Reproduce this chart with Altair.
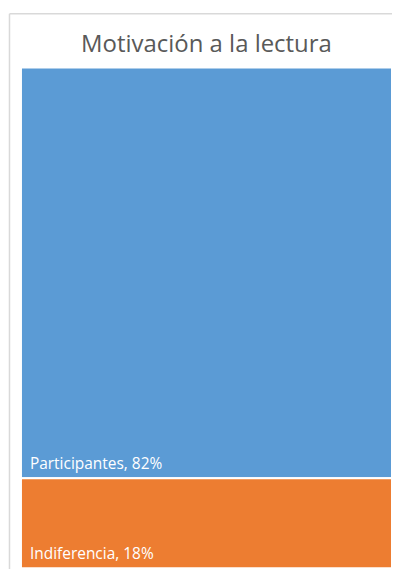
import altair as alt
import pandas as pd

categories = ["Participantes", "Indiferencia"]
values = [82, 18]
colors = ["#5B9BD5", "#ED7D31"]

rows = []
acc = 0
for c, v in zip(categories, values):
    rows.append({"cat": c, "val": v, "y0": acc, "y1": acc + v,
                 "x0": 0, "x1": 1, "label": f"{c}, {v}%"})
    acc += v
df = pd.DataFrame(rows)

W, H = 372, 502
yscale = alt.Scale(domain=[0, 100], range=[0, H])
xscale = alt.Scale(domain=[0, 1], range=[0, W])

base = alt.Chart(df)

rects = base.mark_rect(stroke="white", strokeWidth=2).encode(
    x=alt.X("x0:Q", scale=xscale, axis=None),
    x2="x1:Q",
    y=alt.Y("y0:Q", scale=yscale, axis=None),
    y2="y1:Q",
    color=alt.Color("cat:N", scale=alt.Scale(domain=categories, range=colors), legend=None),
)

labels = base.mark_text(align="left", baseline="alphabetic", dx=9, dy=-9,
                        color="white", fontSize=15.5, font="Open Sans").encode(
    x=alt.X("x0:Q", scale=xscale, axis=None),
    y=alt.Y("y1:Q", scale=yscale, axis=None),
    text="label:N",
)

title = alt.Chart(pd.DataFrame({"t": ["Motivación a la lectura"]})).mark_text(
    align="center", baseline="alphabetic", fontSize=24, font="Open Sans",
    color="#595959"
).encode(x=alt.value(W / 2), y=alt.value(-16), text="t:N")

frame_top = alt.Chart(pd.DataFrame({"a": [0]})).mark_rule(color="#D9D9D9", strokeWidth=1.5).encode(
    x=alt.value(-11.5), x2=alt.value(W + 20), y=alt.value(-54)
)
frame_left = alt.Chart(pd.DataFrame({"a": [0]})).mark_rule(color="#D9D9D9", strokeWidth=1.5).encode(
    x=alt.value(-11.5), y=alt.value(-54), y2=alt.value(H + 20)
)

chart = alt.layer(frame_top, frame_left, rects, labels, title).properties(
    width=W, height=H,
    autosize=alt.AutoSizeParams(type="none"),
    padding={"left": 13, "top": 59, "right": 0, "bottom": 0},
).configure_view(stroke=None).configure(background="white")

chart.save("out.html", embed_options={"renderer": "svg", "actions": False})
